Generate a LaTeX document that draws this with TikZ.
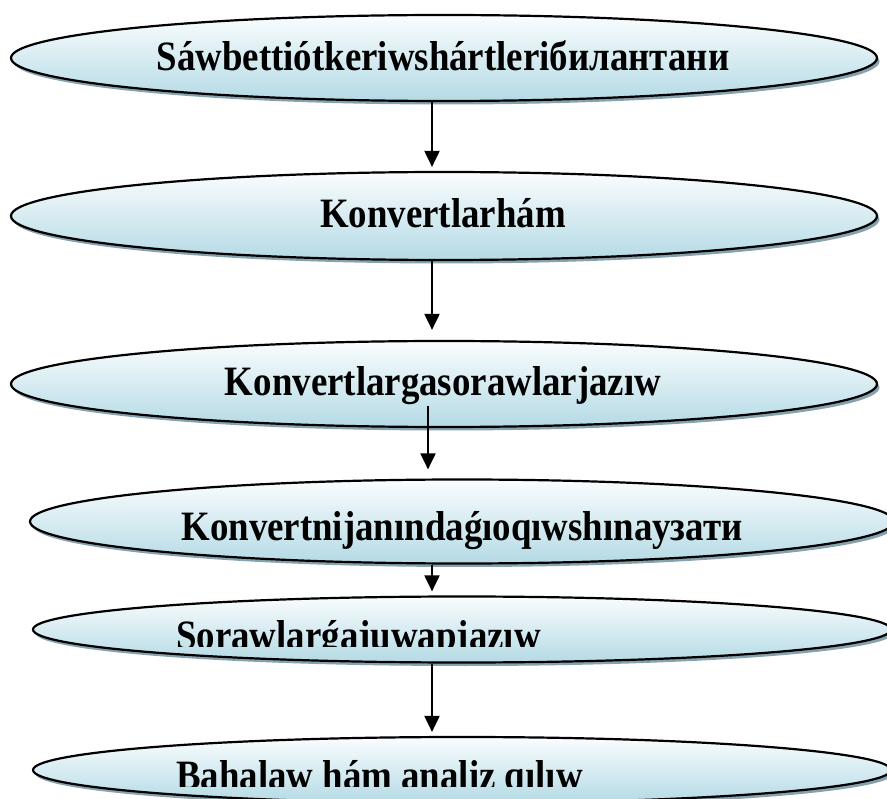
\documentclass[tikz,border=0pt]{standalone}
\usepackage{fontspec}
\setmainfont{Liberation Serif}
\usetikzlibrary{shapes.geometric,shadows,arrows.meta}
\definecolor{elltop}{HTML}{FAFDFE}
\definecolor{ellbot}{HTML}{B4DAE5}
\definecolor{shadowc}{HTML}{86A2AE}
\begin{document}
\begin{tikzpicture}[x=1pt,y=-1pt,
  ell/.style={ellipse, draw=black, line width=2.2pt, inner sep=0pt,
    top color=elltop, bottom color=ellbot,
    drop shadow={shadow xshift=2.5pt, shadow yshift=-3.5pt, fill=shadowc, opacity=1}},
  txt/.style={inner sep=0pt, xscale=0.97, yscale=1.1, font=\fontsize{38}{40}\selectfont\bfseries},
  arr/.style={line width=2pt, -{Triangle[length=16pt,width=15pt]}}]
\useasboundingbox (0,0) rectangle (887,799);
% ellipses
\node[ell, minimum width=866pt, minimum height=86pt] (e1) at (444,58) {};
\node[ell, minimum width=866pt, minimum height=88pt] (e2) at (444,216) {};
\node[ell, minimum width=866pt, minimum height=86pt] (e3) at (444,384) {};
\node[ell, minimum width=864pt, minimum height=84pt] (e4) at (462,521.5) {};
\node[ell, minimum width=858pt, minimum height=66pt] (e5) at (462,629.5) {};
\node[ell, minimum width=858pt, minimum height=66pt] (e6) at (462,770) {};
% texts
\node[txt, anchor=base] (t1) at (443,71) {Sáwbettiótkeriwshártleriбилантани};
\node[txt, anchor=base] (t2) at (443,228) {Konvertlarhám};
\node[txt, anchor=base] (t3) at (443,396) {Konvertlargasorawlarjazıw};
\node[txt, anchor=base] (t4) at (462,540) {Konvertnijanındaǵıoqıwshınayзати};
\begin{scope}
\clip (0,0) rectangle (887,646);
\node[txt, anchor=base west] (t5) at (176,649) {Sorawlarǵajuwapjazıw};
\end{scope}
\begin{scope}
\clip (0,0) rectangle (887,786);
\node[txt, anchor=base west] (t6) at (176,789) {Bahalaw hám analiz qılıw};
\end{scope}
% arrows
\draw[arr, shorten >=4pt] ([xshift=-12pt]e1.south) -- ([xshift=-12pt]e2.north);
\draw[arr, shorten >=10pt] ([xshift=-12pt]e2.south) -- ([xshift=-12pt]e3.north);
\draw[arr, shorten >=9pt] ([xshift=-16pt,yshift=-22pt]e3.center) -- ([xshift=-34pt]e4.north);
\draw[arr, shorten >=4pt] ([xshift=-30pt]e4.south) -- ([xshift=-30pt]e5.north);
\draw[arr, shorten >=4pt] ([xshift=-30pt]e5.south) -- ([xshift=-30pt]e6.north);
\end{tikzpicture}
\end{document}
